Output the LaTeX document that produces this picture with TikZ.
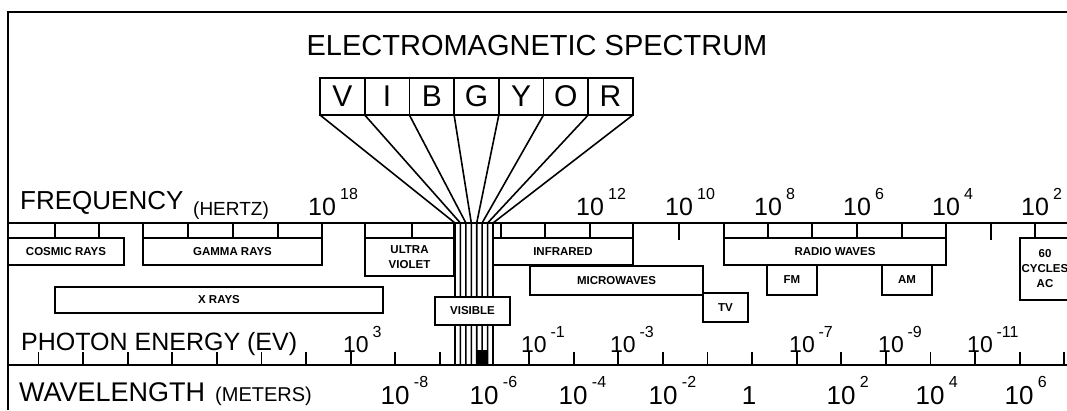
\documentclass[tikz,border=0pt]{standalone}
\usepackage{fontspec}
\setmainfont{Liberation Sans}
\newcommand\fsz[1]{\fontsize{#1}{#1}\selectfont}
\newcommand\tenup[1]{10\,\raisebox{.62em}{\fsz{16}#1}}
\tikzset{frame/.style={line width=2.8pt},
 axis/.style={line width=2.2pt},
 cell/.style={line width=1.8pt},
 fan/.style={line width=1.6pt},
 band/.style={draw,fill=white,line width=1.8pt,inner sep=0pt,outer sep=0pt,anchor=north west,align=center,font=\fontsize{11.5}{15}\selectfont\bfseries},
 hue/.style={draw,line width=1.8pt,inner sep=0pt,outer sep=0pt,minimum width=44.7pt,minimum height=37pt,font=\fsz{30}},
 lbl/.style={inner sep=0pt,anchor=base west}}

\begin{document}
\begin{tikzpicture}[x=1pt,y=-1pt]
\useasboundingbox (0,0) rectangle (1067,410);
\clip (0,0) rectangle (1067,410);
\draw[frame] (8,410) -- (8,12) -- (1067,12);
\node[lbl,anchor=base,font=\fsz{29}] (title) at (537,55) {ELECTROMAGNETIC SPECTRUM};
% colour boxes
\node[hue] (cV) at (342.35,96.5) {V};
\node[hue] (cI) at (387.05,96.5) {I};
\node[hue] (cB) at (431.75,96.5) {B};
\node[hue] (cG) at (476.45,96.5) {G};
\node[hue] (cY) at (521.15,96.5) {Y};
\node[hue] (cO) at (565.85,96.5) {O};
\node[hue] (cR) at (610.55,96.5) {R};
% axes
\draw[axis] (8,223) -- (1067,223);
\draw[axis] (8,365) -- (1067,365);
\node[lbl,font=\fsz{26}] (freq) at (20,209) {FREQUENCY};
\node[lbl,font=\fsz{19}] (hertz) at (193,215) {(HERTZ)};
\node[lbl,font=\fsz{25}] (photon) at (21,350) {PHOTON ENERGY (EV)};
\node[lbl,font=\fsz{27}] (wave) at (19,401) {WAVELENGTH};
\node[lbl,font=\fsz{20}] (meters) at (215,401) {(METERS)};
% visible fan
\coordinate (f0) at (455,223);
\coordinate (f1) at (460.4,223);
\coordinate (f2) at (465.9,223);
\coordinate (f3) at (471.3,223);
\coordinate (f4) at (476.7,223);
\coordinate (f5) at (482.1,223);
\coordinate (f6) at (487.6,223);
\coordinate (f7) at (493,223);
\coordinate (b0) at (455,365);
\coordinate (b1) at (460.4,365);
\coordinate (b2) at (465.9,365);
\coordinate (b3) at (471.3,365);
\coordinate (b4) at (476.7,365);
\coordinate (b5) at (482.1,365);
\coordinate (b6) at (487.6,365);
\coordinate (b7) at (493,365);
\draw[fan] (cV.south west) -- (f0) -- (b0);
\draw[fan] (cI.south west) -- (f1) -- (b1);
\draw[fan] (cB.south west) -- (f2) -- (b2);
\draw[fan] (cG.south west) -- (f3) -- (b3);
\draw[fan] (cY.south west) -- (f4) -- (b4);
\draw[fan] (cO.south west) -- (f5) -- (b5);
\draw[fan] (cR.south west) -- (f6) -- (b6);
\draw[fan] (cR.south east) -- (f7) -- (b7);
\fill (477,350) rectangle (487.6,365);
% frequency cells
\draw[cell] (55,223) -- (55,238) (99,223) -- (99,238);
\draw[cell] (143,223) rectangle (322,238);
\draw[cell] (188,223) -- (188,238) (233,223) -- (233,238) (278,223) -- (278,238);
\draw[cell] (365,223) rectangle (454,238);
\draw[cell] (412,223) -- (412,238);
\draw[cell] (493,223) rectangle (633,238);
\draw[cell] (501,223) -- (501,238) (545,223) -- (545,238) (590,223) -- (590,238);
\draw[cell] (679,223) -- (679,240);
\draw[cell] (724,223) rectangle (946,238);
\draw[cell] (768,223) -- (768,238) (812,223) -- (812,238) (857,223) -- (857,238) (902,223) -- (902,238);
\draw[cell] (991,223) -- (991,240);
\draw[cell] (1035,223) -- (1035,238);
% bands
\node[band,minimum width=116pt,minimum height=27pt] (cosmic) at (8,238) {COSMIC RAYS};
\node[band,minimum width=179pt,minimum height=27pt] (gamma) at (143,238) {GAMMA RAYS};
\node[band,minimum width=328pt,minimum height=26pt] (xray) at (55,287) {X RAYS};
\node[band,minimum width=89pt,minimum height=38pt] (uv) at (365,238) {ULTRA\\VIOLET};
\node[band,minimum width=140pt,minimum height=27pt] (ir) at (493,238) {INFRARED};
\node[band,minimum width=173pt,minimum height=29pt] (micro) at (530,266) {MICROWAVES};
\node[band,minimum width=45pt,minimum height=29pt] (tv) at (703,293) {TV};
\node[band,minimum width=222pt,minimum height=27pt] (radio) at (724,238) {RADIO WAVES};
\node[band,minimum width=50pt,minimum height=30pt] (fm) at (767,265) {FM};
\node[band,minimum width=50pt,minimum height=30pt] (am) at (882,265) {AM};
\node[band,minimum width=50pt,minimum height=62pt] (ac) at (1020,238) {60\\CYCLES\\AC};
\node[band,minimum width=75pt,minimum height=28pt] (vis) at (435,297) {VISIBLE};
% frequency values
\node[lbl,font=\fsz{25}] (fq18) at (308,215) {\tenup{18}};
\node[lbl,font=\fsz{25}] (fq12) at (576,215) {\tenup{12}};
\node[lbl,font=\fsz{25}] (fq10) at (665,215) {\tenup{10}};
\node[lbl,font=\fsz{25}] (fq8) at (754,215) {\tenup{8}};
\node[lbl,font=\fsz{25}] (fq6) at (843,215) {\tenup{6}};
\node[lbl,font=\fsz{25}] (fq4) at (932,215) {\tenup{4}};
\node[lbl,font=\fsz{25}] (fq2) at (1021,215) {\tenup{2}};
% photon energy ticks and values
\draw[cell] (38.5,352) -- (38.5,365) (83.1,352) -- (83.1,365) (127.7,352) -- (127.7,365)
 (172.3,352) -- (172.3,365) (216.9,352) -- (216.9,365) (261.5,352) -- (261.5,365)
 (306.1,352) -- (306.1,365) (350.7,352) -- (350.7,365) (395.3,352) -- (395.3,365)
 (439.9,352) -- (439.9,365) (529.1,352) -- (529.1,365) (573.7,352) -- (573.7,365)
 (618.3,352) -- (618.3,365) (662.9,352) -- (662.9,365) (707.5,352) -- (707.5,365)
 (752.1,352) -- (752.1,365) (796.7,352) -- (796.7,365) (841.3,352) -- (841.3,365)
 (885.9,352) -- (885.9,365) (930.5,352) -- (930.5,365) (975.1,352) -- (975.1,365)
 (1019.7,352) -- (1019.7,365) (1064.3,352) -- (1064.3,365);
\node[lbl,font=\fsz{23}] (pe3) at (343,352) {\tenup{3}};
\node[lbl,font=\fsz{23}] (pe1) at (521,352) {\tenup{-1}};
\node[lbl,font=\fsz{23}] (pe3m) at (610,352) {\tenup{-3}};
\node[lbl,font=\fsz{23}] (pe7) at (789,352) {\tenup{-7}};
\node[lbl,font=\fsz{23}] (pe9) at (878,352) {\tenup{-9}};
\node[lbl,font=\fsz{23}] (pe11) at (967,352) {\tenup{-11}};
% wavelength values
\node[lbl,font=\fsz{26}] (wl8) at (380.5,404) {\tenup{-8}};
\node[lbl,font=\fsz{26}] (wl6) at (469.5,404) {\tenup{-6}};
\node[lbl,font=\fsz{26}] (wl4) at (558.5,404) {\tenup{-4}};
\node[lbl,font=\fsz{26}] (wl2) at (648.5,404) {\tenup{-2}};
\node[lbl,anchor=base,font=\fsz{26}] (wl0) at (749,404) {1};
\node[lbl,font=\fsz{26}] (wlp2) at (826.5,404) {\tenup{2}};
\node[lbl,font=\fsz{26}] (wlp4) at (915.5,404) {\tenup{4}};
\node[lbl,font=\fsz{26}] (wlp6) at (1004.5,404) {\tenup{6}};
\end{tikzpicture}
\end{document}
